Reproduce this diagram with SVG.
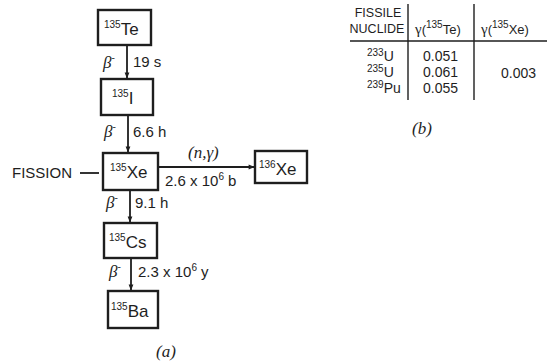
<svg xmlns="http://www.w3.org/2000/svg" width="547" height="363" viewBox="0 0 547 363">
<style>
.box{fill:#fff;stroke:#1e1e1e;stroke-width:2.4}
.t{font-family:"Liberation Sans",Arial,sans-serif;fill:#1e1e1e}
.n{font-size:17px}
.s{font-size:10px}
.l{font-size:15px}
.g{font-family:"Liberation Serif","Times New Roman",serif;font-style:italic;fill:#1e1e1e;font-size:17px}
.ln{stroke:#1e1e1e;stroke-width:1.8;fill:none}
.tl{stroke:#1e1e1e;stroke-width:1.4;fill:none}
</style>
<defs>
<marker id="ah" viewBox="0 0 10 10" refX="9" refY="5" markerWidth="7" markerHeight="6" orient="auto" markerUnits="userSpaceOnUse">
<path d="M0,1 L10,5 L0,9 z" fill="#1e1e1e"/>
</marker>
</defs>
<rect width="547" height="363" fill="#fff"/>

<g id="connectors">
<line class="ln" x1="127" y1="46" x2="127" y2="78" marker-end="url(#ah)"/>
<line class="ln" x1="128" y1="116" x2="128" y2="152" marker-end="url(#ah)"/>
<line class="ln" x1="130" y1="191" x2="130" y2="222" marker-end="url(#ah)"/>
<line class="ln" x1="131" y1="259" x2="131" y2="290" marker-end="url(#ah)"/>
<line class="ln" x1="159" y1="167" x2="254" y2="167" marker-end="url(#ah)"/>
<line class="ln" x1="80" y1="173" x2="99" y2="173"/>
<g class="t l">
<text x="103" y="68" class="g">β<tspan font-size="10" dy="-7" font-style="normal">-</tspan></text>
<text x="133" y="67">19 s</text>
<text x="104" y="137" class="g">β<tspan font-size="10" dy="-7" font-style="normal">-</tspan></text>
<text x="133" y="137">6.6 h</text>
<text x="106" y="208" class="g">β<tspan font-size="10" dy="-7" font-style="normal">-</tspan></text>
<text x="135" y="208">9.1 h</text>
<text x="109" y="277" class="g">β<tspan font-size="10" dy="-7" font-style="normal">-</tspan></text>
<text x="138" y="277">2.3 x 10<tspan class="s" dy="-6">6</tspan><tspan dy="6"> y</tspan></text>
<text x="188" y="158" class="g" font-size="14">(n,γ)</text>
<text x="165" y="186">2.6 x 10<tspan class="s" dy="-6">6</tspan><tspan dy="6"> b</tspan></text>
</g>
</g>

<g id="fission"><text class="t l" x="12" y="178">FISSION</text></g>

<g id="te135">
<rect class="box" x="98" y="10" width="53" height="35"/>
<text class="t n" x="104" y="35"><tspan class="s" dy="-7">135</tspan><tspan dy="7">Te</tspan></text>
</g>
<g id="i135">
<rect class="box" x="101" y="79" width="52" height="36"/>
<text class="t n" x="112" y="104"><tspan class="s" dy="-7">135</tspan><tspan dy="7">I</tspan></text>
</g>
<g id="xe135">
<rect class="box" x="103" y="153" width="55" height="37"/>
<text class="t n" x="110" y="178"><tspan class="s" dy="-7">135</tspan><tspan dy="7">Xe</tspan></text>
</g>
<g id="xe136">
<rect class="box" x="255" y="151" width="52" height="32"/>
<text class="t n" x="259" y="175"><tspan class="s" dy="-7">136</tspan><tspan dy="7">Xe</tspan></text>
</g>
<g id="cs135">
<rect class="box" x="104" y="223" width="53" height="35"/>
<text class="t n" x="109" y="248"><tspan class="s" dy="-7">135</tspan><tspan dy="7">Cs</tspan></text>
</g>
<g id="ba135">
<rect class="box" x="108" y="291" width="50" height="37"/>
<text class="t n" x="111" y="317"><tspan class="s" dy="-7">135</tspan><tspan dy="7">Ba</tspan></text>
</g>
<text class="g" x="156" y="357" font-size="15" font-style="normal">(<tspan font-style="italic">a</tspan>)</text>

<g id="table">
<line class="tl" x1="408" y1="4" x2="408" y2="100"/>
<line class="tl" x1="474" y1="4" x2="474" y2="100"/>
<line class="tl" x1="350" y1="41" x2="547" y2="41"/>
<g class="t" font-size="13">
<text x="378" y="17" text-anchor="middle" font-size="12.5">FISSILE</text>
<text x="377" y="33" text-anchor="middle" font-size="12.5">NUCLIDE</text>
<text x="415" y="34"><tspan font-family="Liberation Serif,serif" font-size="15">γ</tspan>(<tspan class="s" dy="-6">135</tspan><tspan dy="6">Te)</tspan></text>
<text x="481" y="34"><tspan font-family="Liberation Serif,serif" font-size="15">γ</tspan>(<tspan class="s" dy="-6">135</tspan><tspan dy="6">Xe)</tspan></text>
<text x="367" y="61" font-size="14"><tspan class="s" dy="-5">233</tspan><tspan dy="5">U</tspan></text>
<text x="367" y="77" font-size="14"><tspan class="s" dy="-5">235</tspan><tspan dy="5">U</tspan></text>
<text x="367" y="93" font-size="14"><tspan class="s" dy="-5">239</tspan><tspan dy="5">Pu</tspan></text>
<text x="423" y="61" font-size="14">0.051</text>
<text x="423" y="77" font-size="14">0.061</text>
<text x="423" y="93" font-size="14">0.055</text>
<text x="501" y="78" font-size="14">0.003</text>
</g>
<text class="g" x="412" y="134" font-size="15" font-style="normal">(<tspan font-style="italic">b</tspan>)</text>
</g>
</svg>
